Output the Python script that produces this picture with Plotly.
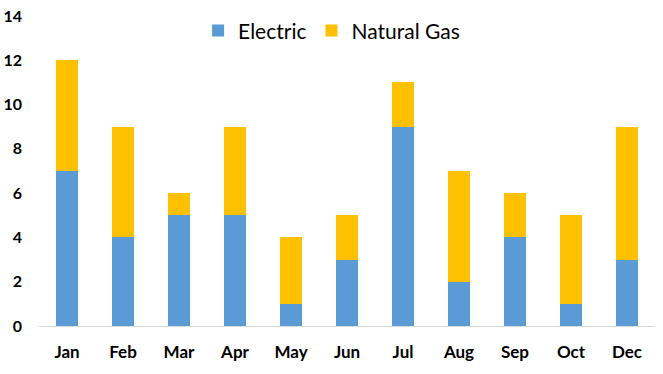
import plotly.graph_objects as go

months = ["Jan", "Feb", "Mar", "Apr", "May", "Jun", "Jul", "Aug", "Sep", "Oct", "Dec"]
electric = [7, 4, 5, 5, 1, 3, 9, 2, 4, 1, 3]
natural_gas = [5, 5, 1, 4, 3, 2, 2, 5, 2, 4, 6]
y_ticks = [0, 2, 4, 6, 8, 10, 12, 14]

fig = go.Figure()
fig.add_trace(go.Bar(x=months, y=electric, name="Electric", marker=dict(color="#5B9BD5", line=dict(width=0))))
fig.add_trace(go.Bar(x=months, y=natural_gas, name="Natural Gas", marker=dict(color="#FFC000", line=dict(width=0))))

fig.update_layout(
    barmode="stack",
    bargap=0.59,
    width=663, height=374,
    margin=dict(l=39, r=8, t=16, b=48, autoexpand=False),
    paper_bgcolor="white", plot_bgcolor="white",
    font=dict(family="Lato, Open Sans, sans-serif", color="#000000"),
    legend=dict(orientation="h", x=0.475, xanchor="center", y=0.952, yanchor="middle",
                font=dict(size=21, color="#000000"), bgcolor="rgba(0,0,0,0)",
                itemwidth=30, traceorder="normal"),
    xaxis=dict(showgrid=False, showline=True, linecolor="#D9D9D9", linewidth=1, automargin=False,
               ticks="", tickfont=dict(size=17, weight="bold"),
               ticklabelstandoff=11),
    yaxis=dict(range=[0, 14], tickvals=y_ticks, showgrid=False, zeroline=False, showline=False,
               automargin=False, ticks="", tickfont=dict(size=16, weight="bold"), ticklabelstandoff=16),
)

fig.write_html("out.html", config={"displayModeBar": False},
               post_script="document.body.style.margin='0px';")
